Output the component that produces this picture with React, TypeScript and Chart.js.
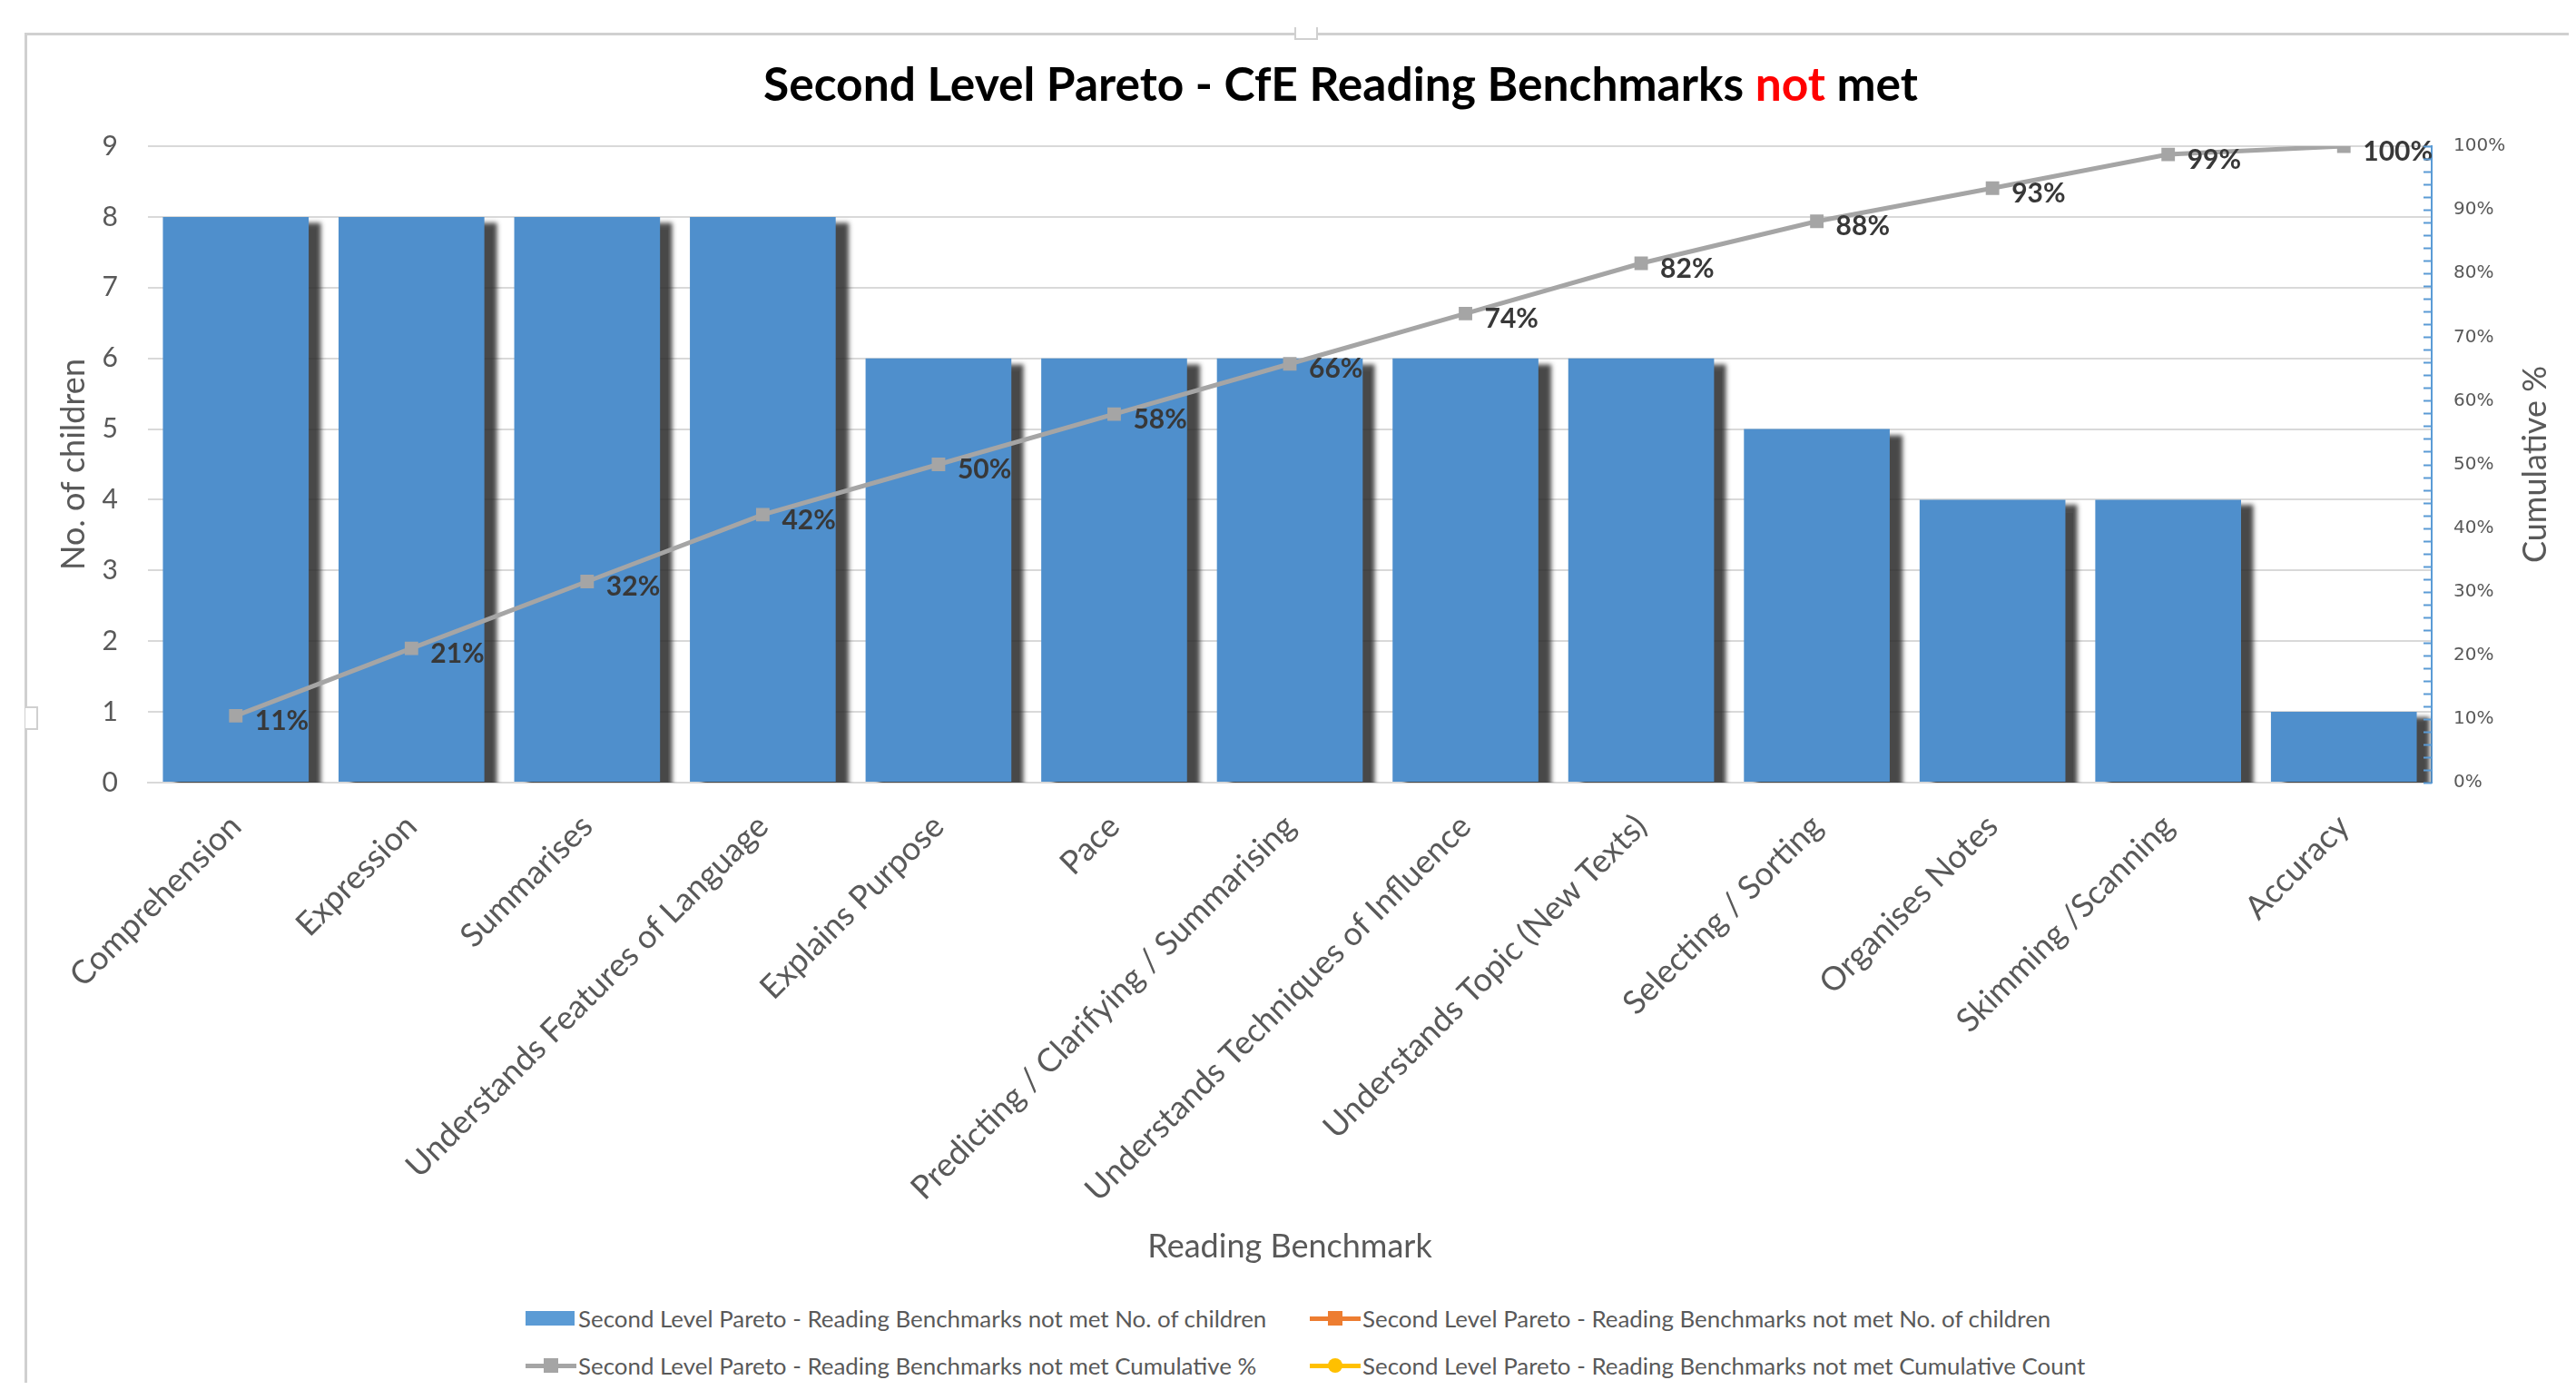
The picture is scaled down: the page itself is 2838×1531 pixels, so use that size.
import React, { useEffect, useRef } from 'react';
import { Chart, registerables } from 'chart.js';

Chart.register(...registerables);

const categories = [
  'Comprehension',
  'Expression',
  'Summarises',
  'Understands Features of Language',
  'Explains Purpose',
  'Pace',
  'Predicting / Clarifying / Summarising',
  'Understands Techniques of Influence',
  'Understands Topic (New Texts)',
  'Selecting / Sorting',
  'Organises Notes',
  'Skimming /Scanning',
  'Accuracy',
];
const childrenCounts = [8, 8, 8, 8, 6, 6, 6, 6, 6, 5, 4, 4, 1];
const cumulativePct = [10.5, 21.1, 31.6, 42.1, 50.0, 57.9, 65.8, 73.7, 81.6, 88.2, 93.4, 98.7, 100];
const leftAxisMax = 9;
const rightAxisMax = 100;

const titleParts = [
  { text: 'Second Level Pareto - CfE Reading Benchmarks ', color: '#000000' },
  { text: 'not', color: '#FF0000' },
  { text: ' met', color: '#000000' },
];
const rightAxisTitle = 'Cumulative %';

const legendItems = [
  { label: 'Second Level Pareto - Reading Benchmarks not met No. of children', kind: 'box', color: '#5B9BD5', marker: 'none' },
  { label: 'Second Level Pareto - Reading Benchmarks not met No. of children', kind: 'line', color: '#ED7D31', marker: 'square' },
  { label: 'Second Level Pareto - Reading Benchmarks not met Cumulative %', kind: 'line', color: '#A5A5A5', marker: 'square' },
  { label: 'Second Level Pareto - Reading Benchmarks not met Cumulative Count', kind: 'line', color: '#FFC000', marker: 'circle' },
];

const FONT = 'Lato, "Open Sans", sans-serif';

const barShadowPlugin = {
  id: 'barShadow',
  beforeDatasetDraw(chart: any, args: any) {
    if (args.meta.type !== 'bar') return;
    const ctx = chart.ctx;
    ctx.save();
    ctx.shadowColor = 'rgba(40,40,40,0.85)';
    ctx.shadowOffsetX = 14;
    ctx.shadowOffsetY = 6;
    ctx.shadowBlur = 5;
  },
  afterDatasetDraw(chart: any, args: any) {
    if (args.meta.type !== 'bar') return;
    chart.ctx.restore();
  },
};

const pointLabelPlugin = {
  id: 'pointLabels',
  afterDatasetsDraw(chart: any) {
    const meta = chart.getDatasetMeta(0);
    const ctx = chart.ctx;
    ctx.save();
    ctx.font = `bold 30px ${FONT}`;
    ctx.fillStyle = '#383838';
    ctx.textAlign = 'left';
    ctx.textBaseline = 'middle';
    meta.data.forEach((pt: any, i: number) => {
      ctx.fillText(Math.round(cumulativePct[i]) + '%', pt.x + 21, pt.y + 6);
    });
    ctx.restore();
  },
};

const axisDecorPlugin = {
  id: 'axisDecor',
  afterDraw(chart: any) {
    const s = chart.scales.y1;
    const ctx = chart.ctx;
    ctx.save();
    ctx.strokeStyle = '#5B9BD5';
    ctx.lineWidth = 2;
    for (let v = 0; v <= rightAxisMax; v += 2) {
      const y = Math.round(s.getPixelForValue(v)) + 0.5;
      ctx.beginPath();
      ctx.moveTo(s.left - 9, y);
      ctx.lineTo(s.left, y);
      ctx.stroke();
    }
    // right axis title, reading bottom-to-top
    const area = chart.chartArea;
    ctx.translate(2785, (area.top + area.bottom) / 2);
    ctx.rotate(-Math.PI / 2);
    ctx.font = `36px ${FONT}`;
    ctx.fillStyle = '#595959';
    ctx.textAlign = 'center';
    ctx.textBaseline = 'middle';
    ctx.fillText(rightAxisTitle, 0, 0);
    ctx.restore();
  },
};

const titlePlugin = {
  id: 'richTitle',
  afterDraw(chart: any) {
    const ctx = chart.ctx;
    ctx.save();
    ctx.font = `bold 51.5px ${FONT}`;
    ctx.textBaseline = 'middle';
    ctx.textAlign = 'left';
    const total = titleParts.reduce((w, p) => w + ctx.measureText(p.text).width, 0);
    let x = 1469 - total / 2;
    const y = 86;
    titleParts.forEach((p) => {
      ctx.fillStyle = p.color;
      ctx.fillText(p.text, x, y);
      x += ctx.measureText(p.text).width;
    });
    ctx.restore();
  },
};

function LegendMarker({ item }: { item: any }) {
  if (item.kind === 'box') {
    return (
      <span style={{ position: 'absolute', left: 0, top: -8, width: 54, height: 16, background: item.color }} />
    );
  }
  return (
    <span style={{ position: 'absolute', left: 0, top: 0, width: 56, height: 0 }}>
      <span style={{ position: 'absolute', left: 0, top: -2.5, width: 56, height: 5, background: item.color }} />
      <span
        style={{
          position: 'absolute',
          left: 20,
          top: -8,
          width: 16,
          height: 16,
          background: item.color,
          borderRadius: item.marker === 'circle' ? '50%' : 0,
        }}
      />
    </span>
  );
}

export default function App() {
  const canvasRef = useRef<HTMLCanvasElement | null>(null);

  useEffect(() => {
    const canvas = canvasRef.current;
    if (!canvas) return;
    Chart.defaults.font.family = FONT;
    const chart = new Chart(canvas, {
      type: 'bar',
      data: {
        labels: categories,
        datasets: [
          {
            type: 'line',
            label: 'Cumulative %',
            data: cumulativePct,
            yAxisID: 'y1',
            borderColor: '#A5A5A5',
            backgroundColor: '#A5A5A5',
            borderWidth: 5,
            pointStyle: 'rect',
            pointRadius: 10.5,
            pointBorderWidth: 0,
            tension: 0,
            order: 0,
          } as any,
          {
            type: 'bar',
            label: 'No. of children',
            data: childrenCounts,
            yAxisID: 'y',
            backgroundColor: '#4F8FCC',
            borderWidth: 0,
            categoryPercentage: 1,
            barPercentage: 0.83,
            clip: 0,
            order: 1,
          } as any,
        ],
      },
      options: {
        responsive: false,
        animation: false,
        maintainAspectRatio: false,
        layout: { padding: { top: 153, bottom: 20, left: 0, right: 0 } },
        plugins: {
          legend: { display: false },
          title: { display: false },
          tooltip: { enabled: false },
        },
        scales: {
          x: {
            grid: { display: false, drawTicks: false },
            border: { display: true, color: '#D9D9D9', width: 2 },
            ticks: {
              minRotation: 45,
              maxRotation: 45,
              autoSkip: false,
              padding: 27,
              color: '#595959',
              font: { size: 36, family: FONT },
            },
            title: {
              display: true,
              text: 'Reading Benchmark',
              color: '#595959',
              font: { size: 36, family: FONT },
              padding: { top: 0, bottom: 13 },
            },
            afterFit(scale: any) {
              scale.height = 546;
            },
          },
          y: {
            position: 'left',
            min: 0,
            max: leftAxisMax,
            grid: { color: '#D9D9D9', lineWidth: 2, drawTicks: false },
            border: { display: false },
            ticks: {
              stepSize: 1,
              padding: 33,
              color: '#595959',
              font: { size: 30, family: FONT },
            },
            title: {
              display: true,
              text: 'No. of children',
              color: '#595959',
              font: { size: 36, family: FONT },
              padding: { top: 52, bottom: 0 },
            },
            afterFit(scale: any) {
              scale.width = 155;
            },
          },
          y1: {
            position: 'right',
            min: 0,
            max: rightAxisMax,
            grid: { drawOnChartArea: false, drawTicks: false },
            border: { display: true, color: '#5B9BD5', width: 2 },
            ticks: {
              stepSize: 10,
              padding: 24,
              color: '#595959',
              font: { size: 20, family: '"DejaVu Sans", Verdana, sans-serif' },
              callback: (v: any) => v + '%',
            },
            title: { display: false },
            afterFit(scale: any) {
              scale.width = 151;
            },
          },
        },
      } as any,
      plugins: [barShadowPlugin, pointLabelPlugin, axisDecorPlugin, titlePlugin],
    });
    return () => chart.destroy();
  }, []);

  const legendPos = [
    { left: 571, top: 1444 },
    { left: 1435, top: 1444 },
    { left: 571, top: 1496 },
    { left: 1435, top: 1496 },
  ];

  return (
    <div style={{ position: 'relative', width: 2822, height: 1515, overflow: 'hidden', background: '#fff' }}>
      <div
        style={{
          position: 'absolute',
          left: 19,
          top: 28,
          width: 2900,
          height: 1600,
          borderTop: '3px solid #D0D0D0',
          borderLeft: '3px solid #D0D0D0',
        }}
      />
      <div style={{ position: 'absolute', left: 1418, top: 22, width: 22, height: 12, background: '#fff', border: '2px solid #D0D0D0', borderTop: 'none' }} />
      <div style={{ position: 'absolute', left: 20, top: 770, width: 12, height: 22, background: '#fff', border: '2px solid #D0D0D0', borderLeft: 'none' }} />
      <canvas
        ref={canvasRef}
        width={2822}
        height={1420}
        style={{ position: 'absolute', left: 0, top: 0, width: 2822, height: 1420 }}
      />
      {legendItems.map((item, i) => (
        <div
          key={i}
          style={{
            position: 'absolute',
            left: legendPos[i].left,
            top: legendPos[i].top,
            height: 0,
            whiteSpace: 'nowrap',
          }}
        >
          <LegendMarker item={item} />
          <span
            style={{
              position: 'absolute',
              left: 58,
              top: -16,
              lineHeight: '32px',
              fontFamily: FONT,
              fontSize: 25.9,
              color: '#595959',
            }}
          >
            {item.label}
          </span>
        </div>
      ))}
    </div>
  );
}
